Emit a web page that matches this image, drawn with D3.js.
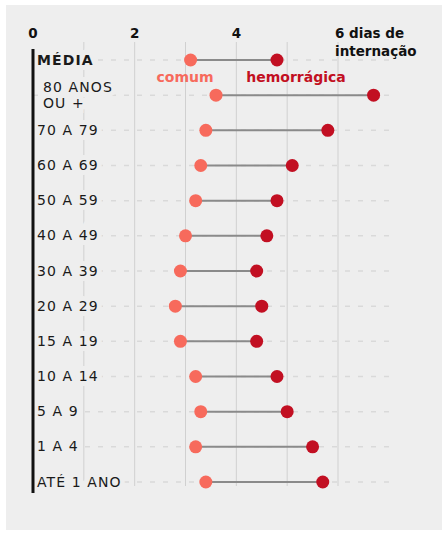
<!DOCTYPE html>
<html>
<head>
<meta charset="utf-8">
<script src="https://cdn.jsdelivr.net/npm/d3@7"></script>
<style>
  body { margin: 0; background: #fff; }
  svg { display: block; }
</style>
</head>
<body>
<svg width="448" height="534"></svg>
<script>
// faixas etárias, de cima para baixo
const categories = ["MÉDIA", "80 ANOS|OU +", "70 A 79", "60 A 69", "50 A 59", "40 A 49",
    "30 A 39", "20 A 29", "15 A 19", "10 A 14", "5 A 9", "1 A 4", "ATÉ 1 ANO"];

// dias de internação
const comum = [3.1, 3.6, 3.4, 3.3, 3.2, 3.0, 2.9, 2.8, 2.9, 3.2, 3.3, 3.2, 3.4];
const hemorragica = [4.8, 6.7, 5.8, 5.1, 4.8, 4.6, 4.4, 4.5, 4.4, 4.8, 5.0, 5.5, 5.7];

const tickValues = [0, 2, 4, 6];
const tickLabels = ["0", "2", "4", "6 dias de|internação"];

const corComum = "#f76a5c";
const corHemo = "#c20f22";
const bg = "#eeeeee";

const svg = d3.select("svg");

svg.append("rect")
    .attr("x", 6).attr("y", 5)
    .attr("width", 436).attr("height", 525)
    .attr("fill", bg);

const x = d3.scaleLinear().domain([0, 6]).range([33, 338]);
const y = d3.scalePoint().domain(categories).range([60, 482]);

// grade vertical
svg.append("g")
    .selectAll("line")
    .data(d3.range(1, 7))
    .join("line")
    .attr("x1", d => x(d)).attr("x2", d => x(d))
    .attr("y1", 42).attr("y2", 486)
    .attr("stroke", "#d0d0d0")
    .attr("stroke-width", 1);

// linhas tracejadas de cada faixa
svg.append("g")
    .selectAll("line")
    .data(categories)
    .join("line")
    .attr("x1", x(0)).attr("x2", x(7.02))
    .attr("y1", d => y(d)).attr("y2", d => y(d))
    .attr("stroke", "#d9d9d9")
    .attr("stroke-width", 1.5)
    .attr("stroke-dasharray", "5,8");

// rótulos das faixas
const labels = svg.append("g")
    .selectAll("text")
    .data(categories)
    .join("text")
    .attr("y", d => y(d))
    .attr("font-family", "DejaVu Sans, sans-serif")
    .attr("font-size", 14)
    .attr("letter-spacing", 1.1)
    .attr("font-weight", d => d == "MÉDIA" ? "bold" : "normal")
    .attr("fill", "#1a1a1a")
    .attr("stroke", bg)
    .attr("stroke-width", 10)
    .attr("paint-order", "stroke");

labels.each(function(d) {
    const parts = d.split("|");
    const t = d3.select(this);
    const indent = parts.length > 1 ? 43 : 37;
    parts.forEach((p, i) => {
        t.append("tspan")
            .attr("x", indent)
            .attr("dy", i == 0 ? (parts.length > 1 ? -3 : 4.5) : 16)
            .text(p);
    });
});

// eixo vertical
svg.append("line")
    .attr("x1", x(0)).attr("x2", x(0))
    .attr("y1", 49).attr("y2", 493)
    .attr("stroke", "#111")
    .attr("stroke-width", 3);

// escala do topo
const ticks = svg.append("g")
    .selectAll("text")
    .data(tickValues)
    .join("text")
    .attr("x", d => d == 6 ? x(d) - 3 : x(d))
    .attr("y", 38)
    .attr("text-anchor", d => d == 6 ? "start" : "middle")
    .attr("font-family", "DejaVu Sans, sans-serif")
    .attr("font-size", 13.5)
    .attr("font-weight", "bold")
    .attr("fill", "#111");

ticks.each(function(d, i) {
    const parts = tickLabels[i].split("|");
    const t = d3.select(this);
    parts.forEach((p, j) => {
        t.append("tspan")
            .attr("x", d == 6 ? x(d) - 3 : x(d))
            .attr("dy", j == 0 ? 0 : 18)
            .text(p);
    });
});

// hastes
const rows = categories.map((c, i) => ({cat: c, a: comum[i], b: hemorragica[i]}));

svg.append("g")
    .selectAll("line")
    .data(rows)
    .join("line")
    .attr("x1", d => x(d.a)).attr("x2", d => x(d.b))
    .attr("y1", d => y(d.cat)).attr("y2", d => y(d.cat))
    .attr("stroke", "#8a8a8a")
    .attr("stroke-width", 2);

svg.append("g")
    .selectAll("circle")
    .data(rows)
    .join("circle")
    .attr("cx", d => x(d.a))
    .attr("cy", d => y(d.cat))
    .attr("r", 6.5)
    .attr("fill", corComum);

svg.append("g")
    .selectAll("circle")
    .data(rows)
    .join("circle")
    .attr("cx", d => x(d.b))
    .attr("cy", d => y(d.cat))
    .attr("r", 6.5)
    .attr("fill", corHemo);

// legenda
svg.append("text")
    .attr("x", 185).attr("y", 82)
    .attr("text-anchor", "middle")
    .attr("font-family", "DejaVu Sans, sans-serif")
    .attr("font-size", 14)
    .attr("font-weight", "bold")
    .attr("fill", corComum)
    .text("comum");

svg.append("text")
    .attr("x", 296).attr("y", 82)
    .attr("text-anchor", "middle")
    .attr("font-family", "DejaVu Sans, sans-serif")
    .attr("font-size", 14)
    .attr("font-weight", "bold")
    .attr("fill", corHemo)
    .text("hemorrágica");
</script>
</body>
</html>
